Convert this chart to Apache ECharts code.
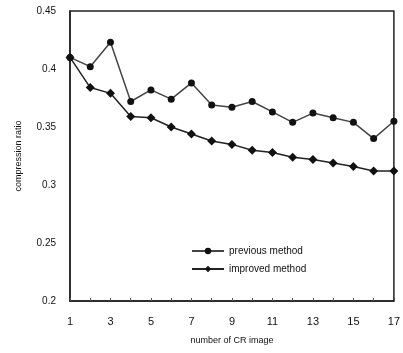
<!DOCTYPE html>
<html>
<head>
<meta charset="utf-8">
<script src="https://cdn.jsdelivr.net/npm/echarts@6/dist/echarts.min.js"></script>
<style>
  html, body { margin: 0; padding: 0; background: #fff; }
  #chart { width: 403px; height: 353px; }
</style>
</head>
<body>
<div id="chart"></div>
<script>
  var imageNumbers = ['1','2','3','4','5','6','7','8','9','10','11','12','13','14','15','16','17'];
  var previousMethod = [0.410, 0.402, 0.423, 0.372, 0.382, 0.374, 0.388, 0.369, 0.367, 0.372, 0.363, 0.354, 0.362, 0.358, 0.354, 0.340, 0.355];
  var improvedMethod = [0.410, 0.384, 0.379, 0.359, 0.358, 0.350, 0.344, 0.338, 0.335, 0.330, 0.328, 0.324, 0.322, 0.319, 0.316, 0.312, 0.312];

  var chart = echarts.init(document.getElementById('chart'));
  var font = 'Liberation Sans';
  var option = {
    animation: false,
    grid: {
      left: 70, right: 6, top: 11, bottom: 52,
      show: true, borderColor: '#222', borderWidth: 1.5
    },
    legend: {
      orient: 'vertical',
      left: 186, top: 241,
      itemWidth: 32, itemHeight: 8, itemGap: 8,
      textStyle: { fontFamily: font, fontSize: 10, color: '#111' },
      data: ['previous method', 'improved method']
    },
    xAxis: {
      type: 'category',
      boundaryGap: false,
      data: imageNumbers,
      name: 'number of CR image',
      nameLocation: 'middle',
      nameGap: 35,
      nameTextStyle: { fontFamily: font, fontSize: 9, color: '#111' },
      axisLine: { lineStyle: { color: '#222', width: 1.5 } },
      axisTick: { inside: true, interval: 0, length: 3, lineStyle: { color: '#555' } },
      axisLabel: { interval: 1, margin: 15, fontFamily: font, fontSize: 11, color: '#111' },
      splitLine: { show: false }
    },
    yAxis: {
      type: 'value',
      min: 0.2, max: 0.45, interval: 0.05,
      name: 'compression ratio',
      nameLocation: 'middle',
      nameGap: 47,
      nameTextStyle: { fontFamily: font, fontSize: 9, color: '#111' },
      axisLine: { show: true, lineStyle: { color: '#222', width: 1.5 } },
      axisTick: { show: false },
      axisLabel: { margin: 14, fontFamily: font, fontSize: 10, color: '#111' },
      splitLine: { show: false }
    },
    series: [
      {
        name: 'previous method',
        type: 'line',
        data: previousMethod,
        symbol: 'circle', symbolSize: 7,
        itemStyle: { color: '#111' },
        lineStyle: { color: '#444', width: 1.5 }
      },
      {
        name: 'improved method',
        type: 'line',
        data: improvedMethod,
        symbol: 'diamond', symbolSize: 9,
        itemStyle: { color: '#111' },
        lineStyle: { color: '#222', width: 1.5 }
      }
    ]
  };
  chart.setOption(option);
  window.onresize = function () { chart.resize(); };
</script>
</body>
</html>
